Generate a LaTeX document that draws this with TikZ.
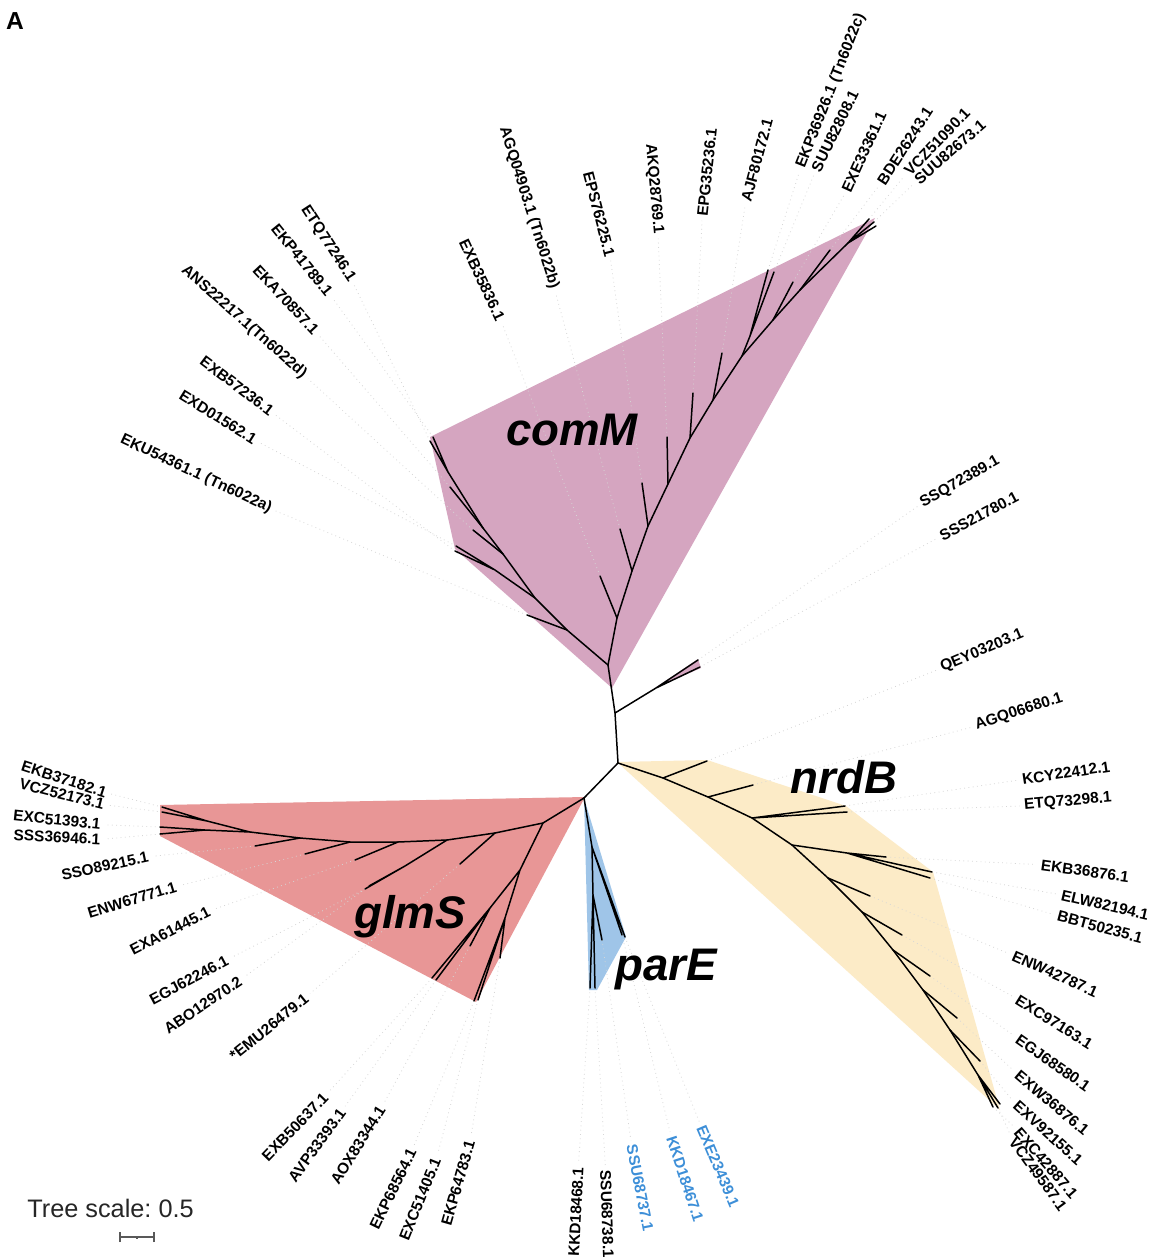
\documentclass[tikz,border=0pt]{standalone}
\usepackage{fontspec}
\setmainfont{Liberation Sans}
\definecolor{comMfill}{HTML}{D5A5C0}
\definecolor{nrdBfill}{HTML}{FCEBC7}
\definecolor{glmSfill}{HTML}{E89696}
\definecolor{parEfill}{HTML}{9FC5E8}
\definecolor{parEtext}{HTML}{3D8FD8}
\begin{document}
\frenchspacing
\begin{tikzpicture}[x=0.02cm,y=-0.02cm,
  branch/.style={line width=0.85pt, line cap=round, line join=round},
  leaf/.style={font=\fontsize{8.8}{10}\selectfont\bfseries, inner sep=0.5pt},
  bleaf/.style={leaf, text=parEtext},
  guide/.style={black!16, dotted, line width=0.45pt, shorten >=2pt},
  clade/.style={font=\fontsize{26}{30}\selectfont\bfseries\itshape, inner sep=0, anchor=base},
  scalebar/.style={black!65, line width=0.8pt},
]
\useasboundingbox (0,0) rectangle (1154,1257);
\fill[white] (0,0) rectangle (1154,1257);

% ---------- clade shading ----------
\fill[comMfill] (430,437) -- (455,549) -- (612,688) -- (875,218) -- cycle;
\fill[comMfill] (655,688) -- (698,659) -- (701,668) -- cycle;
\fill[nrdBfill] (617,762) -- (707,760) -- (846,806) -- (933,872) -- (1000,1110) -- cycle;
\fill[glmSfill] (585,797) -- (160,805) -- (160,836) -- (476,1002) -- cycle;
\fill[parEfill] (584,798) -- (626,937) -- (597,990) -- (589,990) -- cycle;

% ---------- tree nodes ----------
% backbone
\coordinate (cM) at (608,665);
\coordinate (c1) at (615,713);
\coordinate (c2) at (618,763);
\coordinate (c3) at (584,798);
% small pink pair
\coordinate (p0) at (656,688);
\coordinate (tSSQ) at (698,660);
\coordinate (tSSS) at (700,667);
% comM, right-hand stem
\coordinate (m1) at (617,618);
\coordinate (m2) at (632,571);
\coordinate (m3) at (648,526);
\coordinate (m4) at (668,484);
\coordinate (m5) at (690,438);
\coordinate (m6) at (713,400);
\coordinate (m7) at (742,356);
\coordinate (m7a) at (750,336);
\coordinate (m8) at (773,320);
\coordinate (m9) at (800,290);
\coordinate (m10) at (848,243);
\coordinate (tEXB35) at (600,576);
\coordinate (tAGQ04) at (620,529);
\coordinate (tEPS) at (642,483);
\coordinate (tAKQ) at (667,437);
\coordinate (tEPG) at (693,393);
\coordinate (tAJF) at (722,353);
\coordinate (tEKP36) at (768,270);
\coordinate (tSUU08) at (774,272);
\coordinate (tEXE33) at (793,282);
\coordinate (tBDE) at (830,250);
\coordinate (tVCZ51) at (869,219);
\coordinate (tSUU73) at (874,222);
\coordinate (tX) at (876,226);
% comM, left-hand stem
\coordinate (l1) at (567,630);
\coordinate (l2) at (535,598);
\coordinate (l2a) at (495,570);
\coordinate (l3) at (503,554);
\coordinate (l4) at (483,528);
\coordinate (l5) at (448,472);
\coordinate (tEKU) at (527,615);
\coordinate (tEXD) at (456,546);
\coordinate (tEXB57) at (455,551);
\coordinate (tANS) at (473,530);
\coordinate (tEKA) at (450,487);
\coordinate (tEKP41) at (433,437);
\coordinate (tETQ77) at (430,441);
% nrdB
\coordinate (n1) at (663,778);
\coordinate (n2) at (708,797);
\coordinate (n3) at (752,818);
\coordinate (n4) at (792,845);
\coordinate (n4a) at (847,853);
\coordinate (n5) at (828,878);
\coordinate (n6) at (862,912);
\coordinate (n7) at (893,950);
\coordinate (n8) at (923,990);
\coordinate (n9) at (950,1030);
\coordinate (n10) at (978,1075);
\coordinate (tQEY) at (707,761);
\coordinate (tAGQ06) at (753,785);
\coordinate (tKCY) at (845,806);
\coordinate (tETQ73) at (847,812);
\coordinate (tEKB36) at (886,857);
\coordinate (tELW) at (932,872);
\coordinate (tBBT) at (930,878);
\coordinate (tENW) at (870,896);
\coordinate (tEXC97) at (902,935);
\coordinate (tEGJ68) at (930,976);
\coordinate (tEXW) at (957,1018);
\coordinate (tEXV) at (980,1061);
\coordinate (tEXC42) at (993,1107);
\coordinate (tVCZ49) at (998,1108);
\coordinate (tY) at (1000,1104);
% glmS
\coordinate (g1) at (543,823);
\coordinate (g2) at (495,833);
\coordinate (g3) at (447,840);
\coordinate (g3a) at (405,866);
\coordinate (g4) at (398,842);
\coordinate (g5) at (350,842);
\coordinate (g6) at (300,838);
\coordinate (g7) at (250,832);
\coordinate (ga) at (207,821);
\coordinate (gb) at (205,830);
\coordinate (gL) at (520,870);
\coordinate (gA) at (490,908);
\coordinate (gB) at (505,918);
\coordinate (tEKB37) at (162,807);
\coordinate (tVCZ52) at (162,812);
\coordinate (tEXC513) at (160,827);
\coordinate (tSSS36) at (160,834);
\coordinate (tSSO) at (255,846);
\coordinate (tENW67) at (305,854);
\coordinate (tEXA) at (355,860);
\coordinate (tEGJ62) at (365,889);
\coordinate (tABO) at (369,886);
\coordinate (tEMU) at (460,864);
\coordinate (tEXB50) at (432,978);
\coordinate (tAVP) at (436,980);
\coordinate (tAOX) at (470,946);
\coordinate (tEKP68) at (474,1001);
\coordinate (tEXC514) at (478,1000);
\coordinate (tEKP64) at (500,958);
% parE
\coordinate (e1) at (592,847);
\coordinate (e2) at (593,895);
\coordinate (tKKD68) at (590,988);
\coordinate (tSSU38) at (595,988);
\coordinate (tSSU37) at (602,940);
\coordinate (tKKD67) at (622,935);
\coordinate (tEXE23) at (625,937);

% ---------- leaf labels ----------
% comM, top
\node[leaf, rotate=-65] (lEXB35) at (482,280) {EXB35836.1};
\node[leaf, rotate=-72.5] (lAGQ04) at (529,208) {AGQ04903.1 (Tn6022b)};
\node[leaf, rotate=-75.5] (lEPS) at (599,214) {EPS76225.1};
\node[leaf, rotate=-85] (lAKQ) at (654,189) {AKQ28769.1};
\node[leaf, rotate=84] (lEPG) at (707,172) {EPG35236.1};
\node[leaf, rotate=75] (lAJF) at (757,160) {AJF80172.1};
\node[leaf, rotate=68.5] (lEKP36) at (831,91) {EKP36926.1 (Tn6022c)};
\node[leaf, rotate=64] (lSUU08) at (835,131) {SUU82808.1};
\node[leaf, rotate=65.5] (lEXE33) at (864,152) {EXE33361.1};
\node[leaf, rotate=57] (lBDE) at (905,146) {BDE26243.1};
\node[leaf, rotate=46] (lVCZ51) at (937,142) {VCZ51090.1};
\node[leaf, rotate=41] (lSUU73) at (950,152) {SUU82673.1};
% comM, left
\node[leaf, rotate=-57] (lETQ77) at (328,244) {ETQ77246.1};
\node[leaf, rotate=-51] (lEKP41) at (302,260) {EKP41789.1};
\node[leaf, rotate=-47] (lEKA) at (286,300) {EKA70857.1};
\node[leaf, rotate=-41.5] (lANS) at (244,322) {ANS22217.1(Tn6022d)};
\node[leaf, rotate=-37] (lEXB57) at (237,386) {EXB57236.1};
\node[leaf, rotate=-32] (lEXD) at (218,417) {EXD01562.1};
\node[leaf, rotate=-25] (lEKU) at (196,474) {EKU54361.1 (Tn6022a)};
% right side
\node[leaf, rotate=29.5] (lSSQ) at (960,482) {SSQ72389.1};
\node[leaf, rotate=28] (lSSS) at (979,516) {SSS21780.1};
\node[leaf, rotate=23] (lQEY) at (982,651) {QEY03203.1};
\node[leaf, rotate=18] (lAGQ06) at (1019,712) {AGQ06680.1};
\node[leaf, rotate=8.5] (lKCY) at (1066,773) {KCY22412.1};
\node[leaf, rotate=5] (lETQ73) at (1068,802) {ETQ73298.1};
\node[leaf, rotate=-8] (lEKB36) at (1085,871) {EKB36876.1};
\node[leaf, rotate=-13] (lELW) at (1105,905) {ELW82194.1};
\node[leaf, rotate=-15] (lBBT) at (1100,927) {BBT50235.1};
\node[leaf, rotate=-24] (lENW) at (1055,974) {ENW42787.1};
\node[leaf, rotate=-32] (lEXC97) at (1054,1022) {EXC97163.1};
\node[leaf, rotate=-35] (lEGJ68) at (1053,1063) {EGJ68580.1};
\node[leaf, rotate=-40] (lEXW) at (1052,1103) {EXW36876.1};
\node[leaf, rotate=-42] (lEXV) at (1048,1133) {EXV92155.1};
\node[leaf, rotate=-49] (lEXC42) at (1046,1163) {EXC42887.1};
\node[leaf, rotate=-54] (lVCZ49) at (1038,1174) {VCZ49587.1};
% bottom
\node[leaf, rotate=46] (lEXB50) at (295,1127) {EXB50637.1};
\node[leaf, rotate=54] (lAVP) at (317,1145) {AVP33393.1};
\node[leaf, rotate=58] (lAOX) at (358,1145) {AOX83344.1};
\node[leaf, rotate=64] (lEKP68) at (393,1189) {EKP68564.1};
\node[leaf, rotate=68] (lEXC514) at (420,1199) {EXC51405.1};
\node[leaf, rotate=74] (lEKP64) at (458,1183) {EKP64783.1};
\node[leaf, rotate=87] (lKKD68) at (576,1212) {KKD18468.1};
\node[leaf, rotate=-88] (lSSU38) at (607,1214) {SSU68738.1};
\node[bleaf, rotate=-79] (lSSU37) at (640,1188) {SSU68737.1};
\node[bleaf, rotate=-72] (lKKD67) at (685,1179) {KKD18467.1};
\node[bleaf, rotate=-67] (lEXE23) at (718,1166) {EXE23439.1};
% left side
\node[leaf, rotate=-18] (lEKB37) at (64,779) {EKB37182.1};
\node[leaf, rotate=-14] (lVCZ52) at (62,794) {VCZ52173.1};
\node[leaf, rotate=-6] (lEXC513) at (57,820) {EXC51393.1};
\node[leaf, rotate=-3] (lSSS36) at (57,837) {SSS36946.1};
\node[leaf, rotate=12] (lSSO) at (105,866) {SSO89215.1};
\node[leaf, rotate=17] (lENW67) at (132,900) {ENW67771.1};
\node[leaf, rotate=27] (lEXA) at (170,931) {EXA61445.1};
\node[leaf, rotate=28] (lEGJ62) at (189,980) {EGJ62246.1};
\node[leaf, rotate=34] (lABO) at (203,1005) {ABO12970.2};
\node[leaf, rotate=39] (lEMU) at (269,1027) {*EMU26479.1};

% ---------- dotted leaders from tips to labels ----------
\foreach \t/\l in {EXB35/EXB35,AGQ04/AGQ04,EPS/EPS,AKQ/AKQ,ETQ77/ETQ77,EKP41/EKP41,EKA/EKA,ANS/ANS,EXB57/EXB57,EXD/EXD,EKU/EKU,
  EXB50/EXB50,AVP/AVP,AOX/AOX,EKP68/EKP68,EXC514/EXC514,EKP64/EKP64,KKD68/KKD68,
  EKB37/EKB37,VCZ52/VCZ52,EXC513/EXC513,SSS36/SSS36,SSO/SSO,ENW67/ENW67,EXA/EXA,EGJ62/EGJ62,ABO/ABO,EMU/EMU}
  \draw[guide] (t\t) -- (l\l.east);
\foreach \t/\l in {EPG/EPG,AJF/AJF,EKP36/EKP36,SUU08/SUU08,EXE33/EXE33,BDE/BDE,VCZ51/VCZ51,SUU73/SUU73,
  SSQ/SSQ,SSS/SSS,QEY/QEY,AGQ06/AGQ06,KCY/KCY,ETQ73/ETQ73,EKB36/EKB36,ELW/ELW,BBT/BBT,ENW/ENW,EXC97/EXC97,
  EGJ68/EGJ68,EXW/EXW,EXV/EXV,EXC42/EXC42,VCZ49/VCZ49,SSU38/SSU38,SSU37/SSU37,KKD67/KKD67,EXE23/EXE23}
  \draw[guide] (t\t) -- (l\l.west);

% ---------- branches ----------
\draw[branch] (cM) -- (c1) -- (c2) -- (c3);
\draw[branch] (c1) -- (p0) (p0) -- (tSSQ) (p0) -- (tSSS);
% comM
\draw[branch] (cM) -- (m1) -- (m2) -- (m3) -- (m4) -- (m5) -- (m6) -- (m7) -- (m8) -- (m9) -- (m10);
\draw[branch] (m1) -- (tEXB35) (m2) -- (tAGQ04) (m3) -- (tEPS) (m4) -- (tAKQ)
  (m5) -- (tEPG) (m6) -- (tAJF) (m7) -- (m7a) (m7a) -- (tEKP36) (m7a) -- (tSUU08)
  (m8) -- (tEXE33) (m9) -- (tBDE) (m10) -- (tVCZ51) (m10) -- (tSUU73) (m10) -- (tX);
\draw[branch] (cM) -- (l1) -- (l2) -- (l3) -- (l4) -- (l5);
\draw[branch] (l1) -- (tEKU) (l2) -- (l2a) (l2a) -- (tEXD) (l2a) -- (tEXB57)
  (l3) -- (tANS) (l4) -- (tEKA) (l5) -- (tEKP41) (l5) -- (tETQ77);
% nrdB
\draw[branch] (c2) -- (n1) -- (n2) -- (n3) -- (n4) -- (n5) -- (n6) -- (n7) -- (n8) -- (n9) -- (n10);
\draw[branch] (n1) -- (tQEY) (n2) -- (tAGQ06) (n3) -- (tKCY) (n3) -- (tETQ73)
  (n4) -- (n4a) (n4a) -- (tEKB36) (n4a) -- (tELW) (n4a) -- (tBBT)
  (n5) -- (tENW) (n6) -- (tEXC97) (n7) -- (tEGJ68) (n8) -- (tEXW) (n9) -- (tEXV)
  (n10) -- (tEXC42) (n10) -- (tVCZ49) (n10) -- (tY);
% glmS
\draw[branch] (c3) -- (g1) -- (g2) -- (g3) -- (g4) -- (g5) -- (g6) -- (g7);
\draw[branch] (g7) -- (ga) (ga) -- (tEKB37) (ga) -- (tVCZ52)
  (g7) -- (gb) (gb) -- (tEXC513) (gb) -- (tSSS36)
  (g6) -- (tSSO) (g5) -- (tENW67) (g4) -- (tEXA)
  (g3) -- (g3a) (g3a) -- (tEGJ62) (g3a) -- (tABO) (g2) -- (tEMU);
\draw[branch] (g1) -- (gL) (gL) -- (gA) (gA) -- (tEXB50) (gA) -- (tAVP) (gA) -- (tAOX)
  (gL) -- (gB) (gB) -- (tEKP68) (gB) -- (tEXC514) (gB) -- (tEKP64);
% parE
\draw[branch] (c3) -- (e1) -- (e2);
\draw[branch] (e2) -- (tKKD68) (e2) -- (tSSU38) (e2) -- (tSSU37)
  (e1) -- (tKKD67) (e1) -- (tEXE23);

% ---------- clade names ----------
\node[clade] (nmcomM) at (572,445) {comM};
\node[clade] (nmnrdB) at (844,793) {nrdB};
\node[clade] (nmglmS) at (410,928) {glmS};
\node[clade] (nmparE) at (666,980) {parE};

% ---------- panel letter and scale ----------
\node[font=\fontsize{14}{16}\selectfont\bfseries, inner sep=0] (panel) at (15,21) {A};
\node[font=\fontsize{14.4}{17}\selectfont, text=black!85, anchor=base west, inner sep=0] (scaletxt) at (27,1217) {Tree scale: 0.5};
\coordinate (sbL) at (120,1237);
\coordinate (sbR) at (154,1237);
\coordinate (sbM) at (137,1237);
\draw[scalebar] (sbL) -- (sbR);
\draw[scalebar] ([yshift=-5*0.02cm]sbL) -- ([yshift=5*0.02cm]sbL)
  ([yshift=-5*0.02cm]sbR) -- ([yshift=5*0.02cm]sbR)
  (sbM) -- ([yshift=-2*0.02cm]sbM);
\end{tikzpicture}
\end{document}
